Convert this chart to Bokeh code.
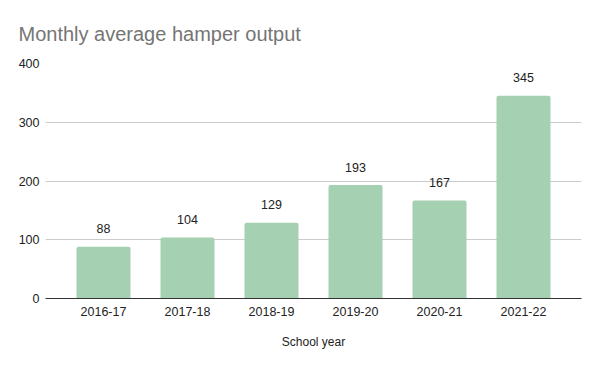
from bokeh.plotting import figure
from bokeh.models import ColumnDataSource, FactorRange, Range1d, LabelSet, Title, FixedTicker
from bokeh.core.properties import value
from bokeh.embed import file_html
from bokeh.resources import INLINE

years = ["2016-17", "2017-18", "2018-19", "2019-20", "2020-21", "2021-22"]
hampers = [88, 104, 129, 193, 167, 345]
y_ticks = [0, 100, 200, 300, 400]

FONT = "Liberation Sans"
TXT = "#222222"

src = ColumnDataSource(dict(x=years, y=hampers, lbl=[str(v) for v in hampers]))

p = figure(width=584, height=355, output_backend="svg", toolbar_location=None,
           x_range=FactorRange(factors=years, range_padding=0.0635),
           y_range=Range1d(0, 400),
           min_border_left=45, min_border_right=3, min_border_top=63, min_border_bottom=57)
p.title = None
p.add_layout(Title(text="Monthly average hamper output", text_font=FONT, text_font_size="20px",
                   text_color="#757575", text_font_style="normal", standoff=38, offset=-27), "above")

p.vbar(x="x", top="y", width=0.643, source=src, fill_color="#a5d0b2", line_color=None,
       border_radius=(2, 2, 0, 0))

labels = LabelSet(x="x", y="y", text="lbl", source=src, y_offset=18, text_align="center",
                  text_baseline="middle", text_font=value(FONT), text_font_size="12.5px",
                  text_color=TXT)
p.add_layout(labels)

p.outline_line_color = None
p.xgrid.grid_line_color = None
p.ygrid.grid_line_color = "#cccccc"
p.ygrid.ticker = FixedTicker(ticks=y_ticks)

p.yaxis.ticker = FixedTicker(ticks=y_ticks)
p.yaxis.axis_line_color = None
p.yaxis.major_tick_line_color = None
p.yaxis.major_tick_out = 0
p.yaxis.major_tick_in = 0
p.yaxis.minor_tick_line_color = None
p.yaxis.major_label_standoff = 6
p.yaxis.major_label_text_font = FONT
p.yaxis.major_label_text_font_size = "12.5px"
p.yaxis.major_label_text_color = TXT

p.xaxis.axis_line_color = "#333333"
p.xaxis.axis_line_width = 1
p.xaxis.major_tick_line_color = None
p.xaxis.major_tick_out = 0
p.xaxis.major_tick_in = 0
p.xaxis.minor_tick_line_color = None
p.xaxis.major_label_standoff = 8
p.xaxis.major_label_text_font = FONT
p.xaxis.major_label_text_font_size = "12.5px"
p.xaxis.major_label_text_color = TXT
p.xaxis.axis_label = "School year"
p.xaxis.axis_label_text_font = FONT
p.xaxis.axis_label_text_font_size = "12px"
p.xaxis.axis_label_text_font_style = "normal"
p.xaxis.axis_label_text_color = TXT
p.xaxis.axis_label_standoff = 16

open("out.html", "w").write(file_html(p, INLINE))
